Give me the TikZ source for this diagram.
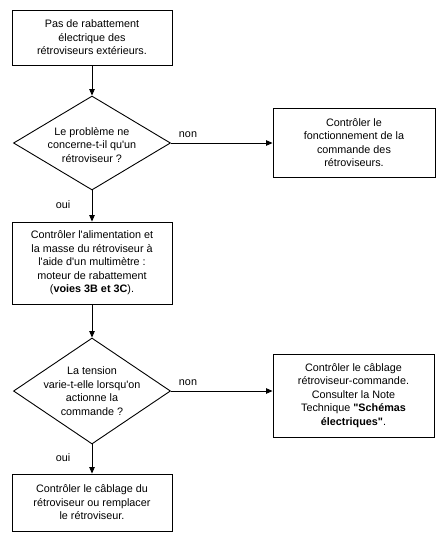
\documentclass[tikz,border=0pt]{standalone}
\usepackage{fontspec}
\setmainfont{Liberation Sans}[Ligatures=TeXOff]
\usetikzlibrary{shapes.geometric,arrows.meta}
\begin{document}
\begin{tikzpicture}[x=1pt,y=-1pt,
  every node/.style={font=\fontsize{10.8}{13.5}\selectfont},
  boxnode/.style={draw,line width=0.9pt,rectangle,inner sep=0pt,align=center},
  decision/.style={draw,line width=0.9pt,diamond,inner sep=0pt},
  plaintext/.style={inner sep=0pt,align=center},
  arr/.style={line width=0.9pt,-{Triangle[length=6.5pt,width=5.5pt]}},
  lbl/.style={inner sep=0pt}]
\useasboundingbox (0,0) rectangle (437,541);
\node[boxnode,minimum width=160pt,minimum height=55pt] (b1) at (92,37.5)
  {Pas de rabattement\\électrique des\\rétroviseurs extérieurs.};
\node[decision,minimum width=157pt,minimum height=94pt] (d1) at (92,143) {};
\node[plaintext] (d1t) at (92,145) {Le problème ne\\concerne-t-il qu'un\\rétroviseur ?};
\node[boxnode,minimum width=162pt,minimum height=69pt] (b2) at (354,142.5)
  {Contrôler le\\fonctionnement de la\\commande des\\rétroviseurs.};
\node[boxnode,minimum width=160pt,minimum height=82pt] (b3) at (92,263)
  {Contrôler l'alimentation et\\la masse du rétroviseur à\\l'aide d'un multimètre :\\moteur de rabattement\\(\textbf{voies 3B et 3C}).};
\node[decision,minimum width=157pt,minimum height=106pt] (d2) at (92,391) {};
\node[plaintext] (d2t) at (92,391) {La tension\\varie-t-elle lorsqu'on\\actionne la\\commande ?};
\node[boxnode,minimum width=161pt,minimum height=83pt] (b5) at (353.5,395.5)
  {Contrôler le câblage\\rétroviseur-commande.\\Consulter la Note\\Technique \textbf{"Schémas}\\\textbf{électriques"}.};
\node[boxnode,minimum width=160pt,minimum height=57pt] (b4) at (92,502.5)
  {Contrôler le câblage du\\rétroviseur ou remplacer\\le rétroviseur.};
\draw[arr] (b1) -- (d1);
\draw[arr] (d1.east) -- (d1.east -| b2.west);
\draw[arr] (d1) -- (b3);
\draw[arr] (b3) -- (d2);
\draw[arr] (d2.east) -- (d2.east -| b5.west);
\draw[arr] (d2) -- (b4);
\node[lbl] (n1) at (188,135) {non};
\node[lbl] (n2) at (188,383) {non};
\node[lbl] (o1) at (63,205) {oui};
\node[lbl] (o2) at (63,458) {oui};
\end{tikzpicture}
\end{document}
